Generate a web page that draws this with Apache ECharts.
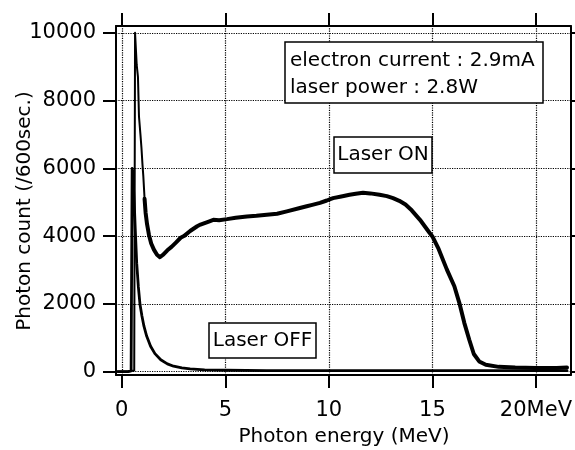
<!DOCTYPE html>
<html><head><meta charset="utf-8">
<script src="https://cdn.jsdelivr.net/npm/echarts@6/dist/echarts.min.js"></script>
<style>html,body{margin:0;padding:0;background:#fff}#c{width:575px;height:450px}</style>
</head><body><div id="c"></div>
<script>
// Tick values and labels
const xTicks = [0, 5, 10, 15, 20];
const xTickLabels = ['0', '5', '10', '15', '20MeV'];
const yTicks = [0, 2000, 4000, 6000, 8000, 10000];
const yTickLabels = ['0', '2000', '4000', '6000', '8000', '10000'];

// Laser ON spectrum (photon energy in MeV, counts per 600 s)
const onEnergy = [-0.2, 0.3, 0.6, 0.64, 0.7, 0.72, 0.78, 0.83, 0.9, 0.95, 1.0, 1.04, 1.1,
  1.15, 1.22, 1.31, 1.42, 1.55, 1.7, 1.84, 2.0, 2.2, 2.4, 2.6, 2.84, 3.0, 3.3, 3.64, 3.8, 4.2,
  4.42, 4.7, 5.08, 5.5, 6.04, 6.5, 7.0, 7.5, 7.97, 8.6, 8.93, 9.2, 9.57, 9.9, 10.2, 10.6, 11.0,
  11.3, 11.65, 12.0, 12.45, 12.8, 13.1, 13.4, 13.7, 14.0, 14.4, 14.86, 15.0, 15.3, 15.7, 16.06,
  16.3, 16.54, 16.78, 17.0, 17.26, 17.58, 18.2, 19.0, 20.0, 21.0, 21.5];
const onCounts = [0, 0, 30, 10000, 9950, 9050, 8700, 7530, 7000, 6600, 6100, 5760, 5100,
  4690, 4350, 4040, 3780, 3600, 3450, 3380, 3450, 3580, 3680, 3800, 3950, 4000, 4150, 4290, 4340, 4430,
  4480, 4470, 4500, 4540, 4580, 4600, 4630, 4660, 4730, 4830, 4880, 4920, 4980, 5050, 5120, 5170, 5220,
  5250, 5280, 5260, 5220, 5180, 5120, 5040, 4930, 4760, 4480, 4100, 3990, 3620, 3010, 2520,
  2030, 1440, 940, 520, 300, 200, 140, 120, 110, 110, 120];

// Laser OFF spectrum
const offEnergy = [-0.2, 0.3, 0.45, 0.5, 0.53, 0.56, 0.6, 0.65, 0.72, 0.8, 0.88, 0.97, 1.07, 1.2,
  1.39, 1.6, 1.88, 2.2, 2.5, 2.9, 3.3, 4.0, 5.0, 7.0, 10.0, 15.0, 17.0, 20.0, 21.5];
const offCounts = [0, 0, 20, 6000, 5900, 5500, 5000, 4200, 3200, 2500, 1980, 1650, 1340, 1050,
  750, 530, 350, 230, 160, 110, 80, 50, 40, 30, 30, 30, 30, 30, 30];

const FONT = '"DejaVu Sans", sans-serif';
const splitIdx = onEnergy.indexOf(1.1);
const pairs = (xs, ys) => xs.map((x, i) => [x, ys[i]]);
const onPairs = pairs(onEnergy, onCounts);

const chart = echarts.init(document.getElementById('c'), null, {renderer: 'canvas'});

const axisLineStyle = {show: true, onZero: false, lineStyle: {color: '#000', width: 2}};
const tickStyle = {length: 13, inside: false, lineStyle: {color: '#000', width: 2}};

const gridMarks = xTicks.map(v => ({xAxis: v})).concat(yTicks.map(v => ({yAxis: v})));

chart.setOption({
  animation: false,
  backgroundColor: '#fff',
  grid: {left: 116, right: 3, top: 26, bottom: 75, containLabel: false},
  xAxis: [
    {type: 'value', position: 'bottom', min: -0.28, max: 21.68,
     axisLine: axisLineStyle,
     axisTick: Object.assign({show: true, customValues: xTicks}, tickStyle),
     axisLabel: {show: true, customValues: xTicks, margin: 25, fontSize: 21, fontFamily: FONT, color: '#000',
       formatter: v => { const i = xTicks.indexOf(v); return i >= 0 ? xTickLabels[i] : ''; }},
     splitLine: {show: false}},
    {type: 'value', position: 'top', min: -0.28, max: 21.68,
     axisLine: axisLineStyle,
     axisTick: Object.assign({show: true, customValues: xTicks}, tickStyle),
     axisLabel: {show: false},
     splitLine: {show: false}}
  ],
  yAxis: [
    {type: 'value', position: 'left', min: -100, max: 10200,
     axisLine: axisLineStyle,
     axisTick: Object.assign({show: true, customValues: yTicks}, tickStyle),
     axisLabel: {show: true, customValues: yTicks, margin: 20, fontSize: 21, fontFamily: FONT, color: '#000',
       formatter: v => { const i = yTicks.indexOf(v); return i >= 0 ? yTickLabels[i] : ''; }},
     splitLine: {show: false}},
    {type: 'value', position: 'right', min: -100, max: 10200,
     axisLine: axisLineStyle,
     axisTick: Object.assign({show: true, customValues: yTicks}, tickStyle),
     axisLabel: {show: false},
     splitLine: {show: false}}
  ],
  series: [
    {name: 'grid', type: 'line', data: [], silent: true,
     markLine: {silent: true, symbol: ['none', 'none'], label: {show: false},
       lineStyle: {type: 'dotted', color: '#000', width: 1.2}, emphasis: {disabled: true},
       data: gridMarks}},
    {name: 'Laser OFF', type: 'line', data: pairs(offEnergy, offCounts), showSymbol: false,
     lineStyle: {color: '#000', width: 2.8, join: 'round', cap: 'round'}, z: 3},
    {name: 'Laser ON spike', type: 'line', data: onPairs.slice(0, splitIdx + 1), showSymbol: false,
     lineStyle: {color: '#000', width: 2, join: 'round', cap: 'round'}, z: 3},
    {name: 'Laser ON', type: 'line', data: onPairs.slice(splitIdx), showSymbol: false,
     lineStyle: {color: '#000', width: 4, join: 'round', cap: 'round'}, z: 3}
  ],
  graphic: [
    {type: 'text', x: 25, y: 211, rotation: Math.PI / 2, z: 100,
     style: {text: 'Photon count (/600sec.)', font: '20px ' + FONT, fill: '#000', align: 'center', verticalAlign: 'middle'}},
    {type: 'text', x: 344, y: 437, z: 100,
     style: {text: 'Photon energy (MeV)', font: '20px ' + FONT, fill: '#000', align: 'center', verticalAlign: 'middle'}},
    {type: 'rect', z: 100, shape: {x: 285, y: 42, width: 258, height: 61},
     style: {fill: '#fff', stroke: '#000', lineWidth: 1.5}},
    {type: 'text', x: 290, y: 61, z: 101,
     style: {text: 'electron current : 2.9mA', font: '20px ' + FONT, fill: '#000', align: 'left', verticalAlign: 'middle'}},
    {type: 'text', x: 290, y: 88, z: 101,
     style: {text: 'laser power : 2.8W', font: '20px ' + FONT, fill: '#000', align: 'left', verticalAlign: 'middle'}},
    {type: 'rect', z: 100, shape: {x: 334, y: 137, width: 98, height: 36},
     style: {fill: '#fff', stroke: '#000', lineWidth: 1.5}},
    {type: 'text', x: 383, y: 155, z: 101,
     style: {text: 'Laser ON', font: '20px ' + FONT, fill: '#000', align: 'center', verticalAlign: 'middle'}},
    {type: 'rect', z: 100, shape: {x: 209, y: 323, width: 107, height: 35},
     style: {fill: '#fff', stroke: '#000', lineWidth: 1.5}},
    {type: 'text', x: 262.5, y: 341, z: 101,
     style: {text: 'Laser OFF', font: '20px ' + FONT, fill: '#000', align: 'center', verticalAlign: 'middle'}}
  ]
});
</script>
</body></html>
